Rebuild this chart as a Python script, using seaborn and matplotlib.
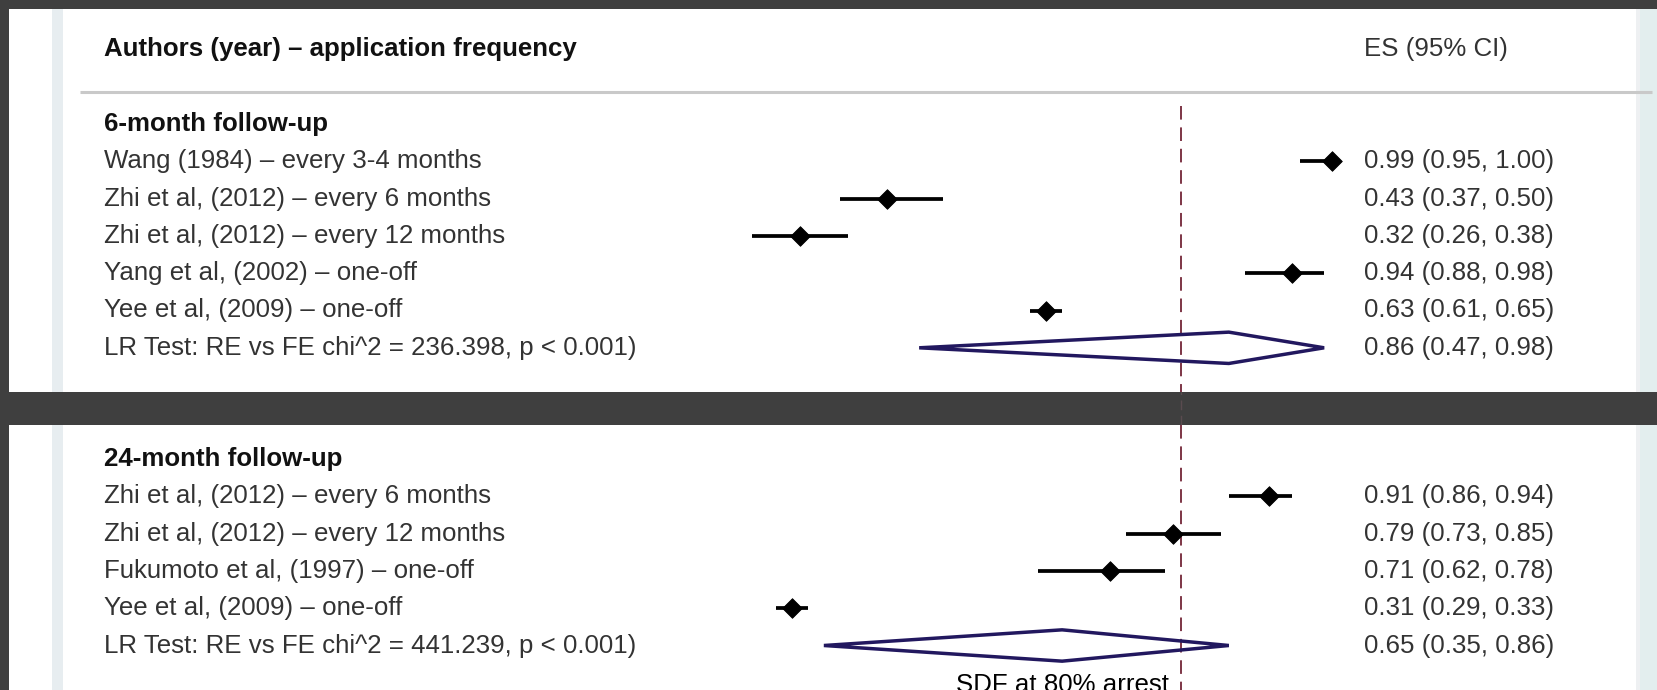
import matplotlib
matplotlib.use("Agg")
import matplotlib.pyplot as plt
from matplotlib.patches import Polygon, Rectangle
import pandas as pd
import seaborn as sns

# ---- data -----------------------------------------------------------------
header_left = "Authors (year) – application frequency"
header_right = "ES (95% CI)"

six_heading = "6-month follow-up"
six_labels = [
    "Wang (1984) – every 3-4 months",
    "Zhi et al, (2012) – every 6 months",
    "Zhi et al, (2012) – every 12 months",
    "Yang et al, (2002) – one-off",
    "Yee et al, (2009) – one-off",
]
six_es = [0.99, 0.43, 0.32, 0.94, 0.63]
six_lo = [0.95, 0.37, 0.26, 0.88, 0.61]
six_hi = [1.00, 0.50, 0.38, 0.98, 0.65]
six_test = "LR Test: RE vs FE chi^2 = 236.398, p < 0.001)"
six_pooled = [0.86, 0.47, 0.98]

tf_heading = "24-month follow-up"
tf_labels = [
    "Zhi et al, (2012) – every 6 months",
    "Zhi et al, (2012) – every 12 months",
    "Fukumoto et al, (1997) – one-off",
    "Yee et al, (2009) – one-off",
]
tf_es = [0.91, 0.79, 0.71, 0.31]
tf_lo = [0.86, 0.73, 0.62, 0.29]
tf_hi = [0.94, 0.85, 0.78, 0.33]
tf_test = "LR Test: RE vs FE chi^2 = 441.239, p < 0.001)"
tf_pooled = [0.65, 0.35, 0.86]

reference_value = 0.8
reference_label = "SDF at 80% arrest"

# ---- style ----------------------------------------------------------------
sns.set_theme(style="white")
plt.rcParams["font.family"] = ["Liberation Sans", "DejaVu Sans"]

W, H = 1658, 690
DPI = 100
BG = "#3f3f3f"
TXT = "#333333"
NAVY = "#22185f"
REF = "#7d3545"
FS = 18.6

# horizontal scale: pixel = X0 + XS * value
X0, XS = 546.0, 794.0
ROW = 37.3


def fx(px):
    return (px - X0) / XS


fig = plt.figure(figsize=(W / DPI, H / DPI), dpi=DPI, facecolor=BG)

# white sheets behind the two panels, plus the faint page edges
for top, bottom in [(9, 392), (425, H)]:
    fig.add_artist(Rectangle((9 / W, 1 - bottom / H), (W - 9) / W,
                             (bottom - top) / H, transform=fig.transFigure,
                             facecolor="white", edgecolor="none", zorder=-2))
    for x0, x1, col in [(52, 63, "#e7edf0"), (1636, 1640, "#eef0f2"),
                        (1640, W, "#e3eeee")]:
        fig.add_artist(Rectangle((x0 / W, 1 - bottom / H), (x1 - x0) / W,
                                 (bottom - top) / H, transform=fig.transFigure,
                                 facecolor=col, edgecolor="none", zorder=-1))


def panel(top, bottom):
    ax = fig.add_axes([9 / W, 1 - bottom / H, (W - 9) / W, (bottom - top) / H])
    ax.axis("off")
    return ax


def draw_block(ax, heading, labels, es, lo, hi, test, pooled):
    n = len(labels)
    rows = list(range(1, n + 1))
    ax.text(fx(104), 0, heading, fontsize=FS, fontweight="bold",
            color="#111111", va="center", ha="left")
    for r, lab, e, l, h in zip(rows, labels, es, lo, hi):
        ax.text(fx(104), r, lab, fontsize=FS, color=TXT, va="center", ha="left")
        ax.text(fx(1364), r, f"{e:.2f} ({l:.2f}, {h:.2f})", fontsize=FS,
                color=TXT, va="center", ha="left")
    ax.hlines(rows, lo, hi, color="black", lw=2.7, zorder=3)
    df = pd.DataFrame({"es": es, "row": rows})
    sns.scatterplot(data=df, x="es", y="row", marker="D", s=100, color="black",
                    edgecolor="black", linewidth=0.6, legend=False, ax=ax,
                    zorder=4)
    pr = n + 1
    ax.text(fx(104), pr, test, fontsize=FS, color=TXT, va="center", ha="left")
    p_es, p_lo, p_hi = pooled
    ax.text(fx(1364), pr, f"{p_es:.2f} ({p_lo:.2f}, {p_hi:.2f})", fontsize=FS,
            color=TXT, va="center", ha="left")
    hh = 0.42
    diamond = Polygon([(p_lo, pr), (p_es, pr - hh), (p_hi, pr), (p_es, pr + hh)],
                      closed=True, facecolor="none", edgecolor=NAVY, lw=2.5,
                      joinstyle="miter", zorder=5)
    ax.add_patch(diamond)
    ax.set_xlabel("")
    ax.set_ylabel("")
    ax.set_xlim(fx(9), fx(W))


# ---- top panel: 6-month follow-up -----------------------------------------
ax1 = panel(9, 392)
draw_block(ax1, six_heading, six_labels, six_es, six_lo, six_hi, six_test, six_pooled)
ax1.set_ylim((392 - 124) / ROW, (9 - 124) / ROW)
ax1.text(fx(104), (49 - 124) / ROW, header_left, fontsize=FS, fontweight="bold",
         color="#111111", va="center", ha="left")
ax1.text(fx(1364), (49 - 124) / ROW, header_right, fontsize=FS, color=TXT,
         va="center", ha="left")
ax1.hlines((92 - 124) / ROW, fx(80), fx(1652), color="#c9c9c9", lw=2.2, zorder=2)
ax1.vlines(reference_value, (106 - 124) / ROW, (392 - 124) / ROW, color=REF,
           lw=1.4, linestyles=(0, (7, 4)), zorder=2)

# ---- bottom panel: 24-month follow-up -------------------------------------
ax2 = panel(425, H)
draw_block(ax2, tf_heading, tf_labels, tf_es, tf_lo, tf_hi, tf_test, tf_pooled)
ax2.set_ylim((H - 459) / ROW, (425 - 459) / ROW)
ax2.vlines(reference_value, (425 - 459) / ROW, (H - 459) / ROW, color=REF,
           lw=1.4, linestyles=(0, (7, 4)), zorder=2)
ax2.text(reference_value - 12 / XS, 6.05, reference_label, fontsize=FS,
         color="black", va="center", ha="right", clip_on=False)

# faint trace of the reference line across the gap between the sheets
gap = fig.add_axes([9 / W, 1 - 425 / H, (W - 9) / W, 33 / H])
gap.axis("off")
gap.set_xlim(fx(9), fx(W))
gap.set_ylim(0, 1)
gap.vlines(reference_value, 0, 1, color="#5a4b4f", lw=1.0,
           linestyles=(0, (7, 4)))

fig.savefig("out.png", dpi=DPI, facecolor=BG)
